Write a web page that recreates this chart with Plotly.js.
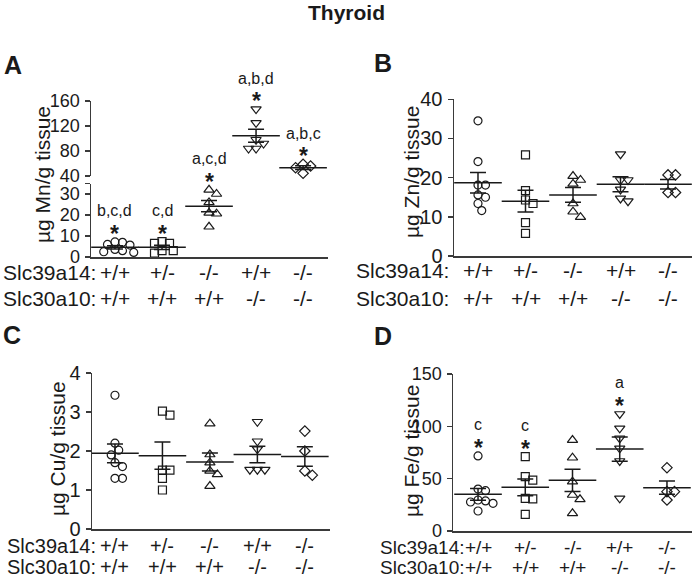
<!DOCTYPE html>
<html><head><meta charset="utf-8">
<script src="https://cdn.plot.ly/plotly-3.0.1.min.js"></script>
<style>html,body{margin:0;padding:0;background:#fff}#chart{width:693px;height:579px}</style>
</head><body><div id="chart"></div>
<script>
// ---------- DATA ----------
const slc39a14 = ['+/+', '+/-', '-/-', '+/+', '-/-'];
const slc30a10 = ['+/+', '+/+', '+/+', '-/-', '-/-'];

// Panel A: Mn (µg/g tissue)
const mnGroup1 = [7.2, 7.0, 6.0, 5.7, 3.6, 3.0, 2.5, 2.2];
const mnGroup2 = [7.3, 6.5, 6.5, 3.0, 3.0, 1.8];
const mnGroup3 = [32.0, 30.0, 26.0, 21.0, 20.6, 14.4];
const mnGroup4 = [147, 125, 98, 92, 84, 84];
const mnGroup5 = [58.7, 56.0, 53.3, 44.3];
const mnMean = [4.6, 4.6, 24.2, 104.5, 53.3];
const mnSem = [0.8, 1.0, 2.7, 10.3, 3.0];
const mnLetters = ['b,c,d', 'c,d', 'a,c,d', 'a,b,d', 'a,b,c'];

// Panel B: Zn
const znGroup1 = [34.5, 24.1, 18.1, 18.1, 15.6, 15.0, 13.4, 11.6];
const znGroup2 = [25.8, 16.7, 14.3, 13.4, 8.5, 5.8];
const znGroup3 = [20.4, 19.4, 18.4, 13.4, 11.3, 9.9];
const znGroup4 = [26.0, 19.4, 19.4, 17.0, 14.7, 14.0];
const znGroup5 = [20.7, 20.7, 16.2, 16.2];
const znMean = [18.7, 14.0, 15.6, 18.3, 18.3];
const znSem = [2.6, 2.8, 1.9, 1.9, 1.2];
const znLetters = ['', '', '', '', ''];

// Panel C: Cu
const cuGroup1 = [3.43, 2.2, 2.02, 1.9, 1.7, 1.6, 1.3, 1.3];
const cuGroup2 = [3.02, 2.92, 1.51, 1.51, 1.3, 1.0];
const cuGroup3 = [2.7, 1.91, 1.7, 1.49, 1.4, 1.1];
const cuGroup4 = [2.75, 2.25, 2.05, 1.52, 1.52, 1.52];
const cuGroup5 = [2.51, 2.0, 1.49, 1.38];
const cuMean = [1.94, 1.88, 1.72, 1.91, 1.86];
const cuSem = [0.24, 0.35, 0.23, 0.21, 0.25];
const cuLetters = ['', '', '', '', ''];

// Panel D: Fe
const feGroup1 = [71.7, 40.1, 38.5, 29.6, 28.7, 27.7, 26.4, 19.1];
const feGroup2 = [71.0, 51.9, 48.7, 31.2, 30.6, 15.9];
const feGroup3 = [86.9, 70.0, 47.1, 34.4, 30.3, 16.9];
const feGroup4 = [111.8, 98.1, 88.6, 79.0, 66.9, 31.2];
const feGroup5 = [60.5, 37.6, 37.6, 29.6];
const feMean = [35.0, 41.7, 48.4, 78.3, 41.4];
const feSem = [5.7, 8.0, 10.6, 11.6, 6.4];
const feLetters = ['c', 'c', '', 'a', ''];

// ---------- STYLE / LAYOUT ----------
const W = 693, H = 579;
const FONT = 'Liberation Sans, Arial, Helvetica, sans-serif';
const INK = '#1a1a1a';
const AX = '#3a3a3a';
const symbols = ['circle-open', 'square-open', 'triangle-up-open', 'triangle-down-open', 'diamond-open'];
const fx = p => p / W;
const fy = p => 1 - p / H;

const axes = {
  x:  {domainPx: [91, 328],  range: [-0.51, 4.53]},
  x2: {domainPx: [454, 692], range: [-0.505, 4.505]},
  x3: {domainPx: [92, 330],  range: [-0.484, 4.53]},
  x4: {domainPx: [453, 692], range: [-0.53, 4.53]},
  y:  {domainPx: [257, 183.5], range: [0, 35], tickvals: [0, 10, 20, 30, 35], ticktext: ['0', '10', '20', '30', ''], fs: 18},
  y2: {domainPx: [176, 101], range: [40, 160], tickvals: [40, 80, 120, 160], fs: 18},
  y3: {domainPx: [256, 99.3], range: [0, 40], tickvals: [0, 10, 20, 30, 40], fs: 20},
  y4: {domainPx: [529, 373], range: [0, 4], tickvals: [0, 1, 2, 3, 4], fs: 20},
  y5: {domainPx: [531, 374], range: [0, 150], tickvals: [0, 50, 100, 150], fs: 18}
};
function pxPerUnit(name) {
  const a = axes[name];
  return Math.abs(a.domainPx[1] - a.domainPx[0]) / (a.range[1] - a.range[0]);
}

const panels = [
  {letter: 'A', groups: [mnGroup1, mnGroup2, mnGroup3, mnGroup4, mnGroup5], mean: mnMean, sem: mnSem, letters: mnLetters,
   x: 'x', yFor: i => (i < 3 ? 'y' : 'y2'), title: 'µg Mn/g tissue', titlePos: [42, 175], letterPos: [13, 65],
   rowLabelRight: 98, rows: [272, 298], rowFs: 21},
  {letter: 'B', groups: [znGroup1, znGroup2, znGroup3, znGroup4, znGroup5], mean: znMean, sem: znSem, letters: znLetters,
   x: 'x2', yFor: () => 'y3', title: 'µg Zn/g tissue', titlePos: [411, 172], letterPos: [383, 63],
   rowLabelRight: 451, rows: [270, 298], rowFs: 21},
  {letter: 'C', groups: [cuGroup1, cuGroup2, cuGroup3, cuGroup4, cuGroup5], mean: cuMean, sem: cuSem, letters: cuLetters,
   x: 'x3', yFor: () => 'y4', title: 'µg Cu/g tissue', titlePos: [57, 449], letterPos: [12, 335],
   rowLabelRight: 98, rows: [546, 567], rowFs: 20},
  {letter: 'D', groups: [feGroup1, feGroup2, feGroup3, feGroup4, feGroup5], mean: feMean, sem: feSem, letters: feLetters,
   x: 'x4', yFor: () => 'y5', title: 'µg Fe/g tissue', titlePos: [411, 451], letterPos: [383, 336],
   rowLabelRight: 467, rows: [547, 567], rowFs: 19}
];

// simple beeswarm: spread overlapping points sideways (pixel-based)
function swarmOffsets(vals, pyu, pxc, d) {
  const placed = [];
  return vals.map(v => {
    const y = v * pyu;
    const cands = [0];
    for (let k = 1; k < 14; k++) cands.push(k * d * 0.5, -k * d * 0.5);
    let off = cands.find(c => placed.every(p => Math.hypot(p[0] - c, p[1] - y) >= d));
    if (off === undefined) off = 0;
    placed.push([off, y]);
    return off / pxc;
  });
}

const traces = [];
const annotations = [];

panels.forEach(P => {
  const pxc = pxPerUnit(P.x);
  P.groups.forEach((vals, i) => {
    const yax = P.yFor(i);
    const offs = swarmOffsets(vals, pxPerUnit(yax), pxc, 7.5);
    traces.push({
      type: 'scatter', mode: 'markers', xaxis: P.x, yaxis: yax,
      x: offs.map(o => i + o), y: vals, cliponaxis: false,
      marker: {symbol: symbols[i], size: i >= 2 && i <= 3 ? 9 : 8, color: INK, line: {width: 1.2, color: INK}},
      hoverinfo: 'skip', showlegend: false
    });
    traces.push({
      type: 'scatter', mode: 'markers', xaxis: P.x, yaxis: yax,
      x: [i], y: [P.mean[i]], cliponaxis: false,
      marker: {symbol: 'line-ew-open', size: 34, color: INK, line: {width: 1.5, color: INK}},
      error_y: {type: 'data', array: [P.sem[i]], visible: true, width: 8, thickness: 1.5, color: INK},
      hoverinfo: 'skip', showlegend: false
    });
    if (P.letters[i]) {
      const top = Math.max(...vals);
      annotations.push({xref: P.x, yref: yax, x: i, y: top, yshift: 8, yanchor: 'middle', showarrow: false,
        text: '<b>*</b>', font: {family: FONT, size: 23, color: INK}});
      annotations.push({xref: P.x, yref: yax, x: i, y: top, yshift: 31, yanchor: 'middle', showarrow: false,
        text: P.letters[i], font: {family: FONT, size: 16, color: INK}});
    }
    annotations.push({xref: P.x, yref: 'paper', x: i, y: fy(P.rows[0]), yanchor: 'middle', showarrow: false,
      text: slc39a14[i], font: {family: FONT, size: P.rowFs, color: INK}});
    annotations.push({xref: P.x, yref: 'paper', x: i, y: fy(P.rows[1]), yanchor: 'middle', showarrow: false,
      text: slc30a10[i], font: {family: FONT, size: P.rowFs, color: INK}});
  });
  annotations.push({xref: 'paper', yref: 'paper', x: fx(P.rowLabelRight), y: fy(P.rows[0]), xanchor: 'right', yanchor: 'middle',
    showarrow: false, text: 'Slc39a14:', font: {family: FONT, size: P.rowFs, color: INK}});
  annotations.push({xref: 'paper', yref: 'paper', x: fx(P.rowLabelRight), y: fy(P.rows[1]), xanchor: 'right', yanchor: 'middle',
    showarrow: false, text: 'Slc30a10:', font: {family: FONT, size: P.rowFs, color: INK}});
  annotations.push({xref: 'paper', yref: 'paper', x: fx(P.titlePos[0]), y: fy(P.titlePos[1]), textangle: -90,
    xanchor: 'center', yanchor: 'middle', showarrow: false, text: P.title, font: {family: FONT, size: 21, color: INK}});
  annotations.push({xref: 'paper', yref: 'paper', x: fx(P.letterPos[0]), y: fy(P.letterPos[1]),
    xanchor: 'center', yanchor: 'middle', showarrow: false, text: '<b>' + P.letter + '</b>', font: {family: FONT, size: 25, color: INK}});
});

const layout = {
  width: W, height: H, margin: {l: 0, r: 0, t: 0, b: 0},
  paper_bgcolor: '#fff', plot_bgcolor: 'rgba(0,0,0,0)',
  showlegend: false, hovermode: false,
  title: {text: '<b>Thyroid</b>', font: {family: FONT, size: 21, color: INK}, x: 0.5, xanchor: 'center', y: fy(13), yanchor: 'middle'},
  font: {family: FONT, color: INK},
  annotations: annotations
};

const xAnchor = {x: 'y', x2: 'y3', x3: 'y4', x4: 'y5'};
const yAnchor = {y: 'x', y2: 'x', y3: 'x2', y4: 'x3', y5: 'x4'};
Object.keys(axes).forEach(name => {
  const a = axes[name];
  const key = name[0] + 'axis' + name.slice(1);
  if (name[0] === 'x') {
    layout[key] = {domain: [fx(a.domainPx[0]), fx(a.domainPx[1])], range: a.range, anchor: xAnchor[name],
      showline: true, linecolor: AX, linewidth: 1.5, ticks: '', showticklabels: false,
      showgrid: false, zeroline: false, fixedrange: true};
  } else {
    layout[key] = {domain: [fy(a.domainPx[0]), fy(a.domainPx[1])], range: a.range, anchor: yAnchor[name],
      showline: true, linecolor: AX, linewidth: 1.5, ticks: 'outside', ticklen: 5, tickwidth: 1.5, tickcolor: AX,
      tickmode: 'array', tickvals: a.tickvals, ticktext: a.ticktext || a.tickvals.map(String),
      tickfont: {family: FONT, size: a.fs, color: INK}, ticklabelstandoff: 1,
      showgrid: false, zeroline: false, fixedrange: true};
  }
});

Plotly.newPlot('chart', traces, layout, {staticPlot: true, displayModeBar: false});
</script>
</body></html>
